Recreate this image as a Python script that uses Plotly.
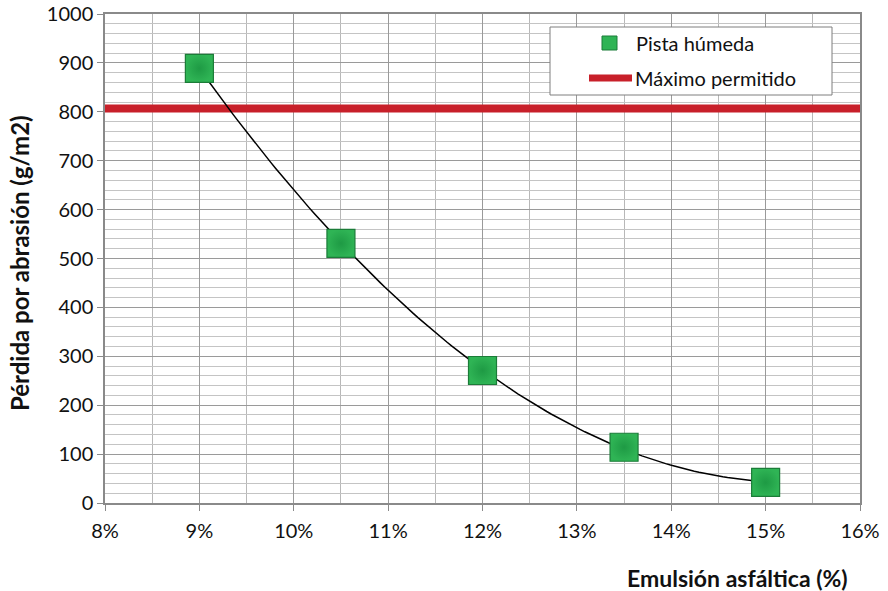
import numpy as np
import plotly.graph_objects as go

emulsion = [0.09, 0.105, 0.12, 0.135, 0.15]
perdida = [889, 531, 271, 114, 42]
maximo_x = [0.08, 0.16]
maximo_y = [807, 807]
serie_nombres = ["Pista húmeda", "Máximo permitido"]

# polynomial (order 2) trendline, like the spreadsheet trendline
coef = np.polyfit(emulsion, perdida, 2)
tx = np.linspace(min(emulsion), max(emulsion), 120)
ty = np.polyval(coef, tx)

FONT = "Lato, Open Sans, sans-serif"
W, H = 888, 591
L, R, T, B = 105, 28, 14, 88
PW, PH = W - L - R, H - T - B


def px(x):
    return (x - L) / PW


def py(y):
    return (H - B - y) / PH


fig = go.Figure()
fig.add_trace(go.Scatter(
    x=maximo_x, y=maximo_y, mode="lines", name=serie_nombres[1],
    line=dict(color="#c8202a", width=8), showlegend=False))
fig.add_trace(go.Scatter(
    x=tx, y=ty, mode="lines", showlegend=False,
    line=dict(color="black", width=1.5), hoverinfo="skip"))
fig.add_trace(go.Scatter(
    x=emulsion, y=perdida, mode="markers", name=serie_nombres[0],
    marker=dict(symbol="square", size=28, color="#2fb455",
                line=dict(color="#1b7c38", width=1.2),
                gradient=dict(type="radial", color="#1e9a44")),
    showlegend=False))

fig.update_layout(
    width=W, height=H,
    margin=dict(l=L, r=R, t=T, b=B),
    paper_bgcolor="white", plot_bgcolor="white",
    font=dict(family=FONT, size=20, color="#111"),
    showlegend=False,
)
fig.update_xaxes(
    range=[0.08, 0.16], dtick=0.01, tick0=0.08, tickformat=".0%",
    showgrid=True, gridcolor="#9a9a9a", gridwidth=1,
    minor=dict(dtick=0.005, showgrid=True, gridcolor="#b8b8b8", gridwidth=1),
    showline=True, linecolor="#8a8a8a", linewidth=1.5, mirror=True,
    ticks="outside", ticklen=6, tickcolor="#8a8a8a", ticklabelstandoff=3,
    zeroline=False, tickfont=dict(size=20), automargin=False)
fig.update_yaxes(
    range=[0, 1000], dtick=100, tick0=0,
    showgrid=True, gridcolor="#9a9a9a", gridwidth=1,
    minor=dict(dtick=20, showgrid=True, gridcolor="#c4c4c4", gridwidth=1),
    showline=True, linecolor="#8a8a8a", linewidth=1.5, mirror=True,
    ticks="outside", ticklen=6, tickcolor="#8a8a8a",
    zeroline=False, tickfont=dict(size=20), automargin=False)

# axis titles
fig.add_annotation(
    text="<b>Emulsión asfáltica (%)</b>", xref="paper", yref="paper",
    x=px(737), y=py(578), xanchor="center", yanchor="middle",
    showarrow=False, font=dict(size=23, family=FONT))
fig.add_annotation(
    text="<b>Pérdida por abrasión (g/m2)</b>", xref="paper", yref="paper",
    x=px(19), y=py(263), xanchor="center", yanchor="middle", textangle=-90,
    showarrow=False, font=dict(size=24, family=FONT))

# legend (drawn by hand to match the box size)
fig.add_shape(type="rect", xref="paper", yref="paper",
              x0=px(550), x1=px(832), y0=py(95), y1=py(27),
              line=dict(color="#7f7f7f", width=1), fillcolor="white", layer="above")
fig.add_shape(type="rect", xref="paper", yref="paper",
              x0=px(602), x1=px(617), y0=py(50), y1=py(36),
              line=dict(color="#1b7c38", width=1), fillcolor="#2fb455", layer="above")
fig.add_shape(type="line", xref="paper", yref="paper",
              x0=px(589), x1=px(632), y0=py(78), y1=py(78),
              line=dict(color="#c8202a", width=7), layer="above")
fig.add_annotation(text=serie_nombres[0], xref="paper", yref="paper",
                   x=px(634), y=py(43), xanchor="left", yanchor="middle",
                   showarrow=False, font=dict(size=20, family=FONT))
fig.add_annotation(text=serie_nombres[1], xref="paper", yref="paper",
                   x=px(633), y=py(78), xanchor="left", yanchor="middle",
                   showarrow=False, font=dict(size=20, family=FONT))

fig.write_html("out.html", config={"displayModeBar": False},
               post_script="document.body.style.margin='0';")
